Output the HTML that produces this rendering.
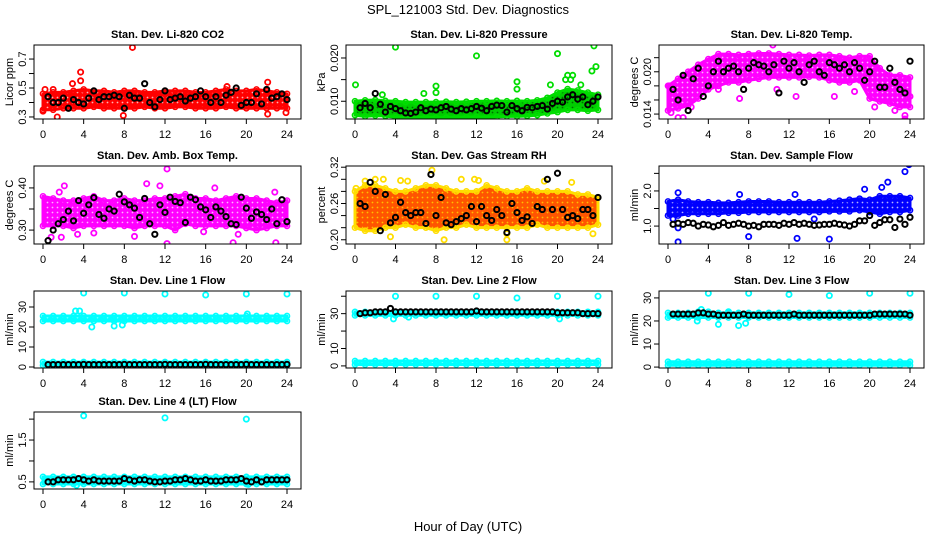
<!DOCTYPE html>
<html><head><meta charset="utf-8">
<style>
html,body{margin:0;padding:0;background:#fff;}
svg{display:block;font-family:"Liberation Sans",sans-serif;}
</style></head>
<body>
<svg id="chart" width="936" height="540" viewBox="0 0 936 540">
<rect width="936" height="540" fill="#fff"/>
<text x="468" y="14" text-anchor="middle" font-size="13">SPL_121003  Std. Dev. Diagnostics</text>
<text x="468" y="531" text-anchor="middle" font-size="13">Hour of Day (UTC)</text>
</svg>
<script>
// ---- shared data ----
const bandHours = [0,1,2,3,4,5,6,7,8,9,10,11,12,13,14,15,16,17,18,19,20,21,22,23,24];
const blackHours = [0.5,1,1.5,2,2.5,3,3.5,4,4.5,5,5.5,6,6.5,7,7.5,8,8.5,9,9.5,10,10.5,11,11.5,12,12.5,13,13.5,14,14.5,15,15.5,16,16.5,17,17.5,18,18.5,19,19.5,20,20.5,21,21.5,22,22.5,23,23.5,24];
const xTicks = [0,4,8,12,16,20,24];

// CO2
const co2Lo = [0.35,0.35,0.36,0.36,0.36,0.37,0.36,0.36,0.36,0.36,0.37,0.36,0.36,0.37,0.37,0.36,0.36,0.36,0.37,0.36,0.36,0.36,0.36,0.36,0.36];
const co2Hi = [0.46,0.47,0.47,0.48,0.49,0.48,0.48,0.47,0.48,0.48,0.47,0.47,0.48,0.48,0.48,0.47,0.47,0.48,0.49,0.48,0.48,0.49,0.48,0.47,0.46];
const co2OutT = [8.8,3.7,3.7,2.9,22.1,1.4,7.9,22.1,0.2,1,18.1,0,23.9];
const co2OutV = [0.78,0.61,0.55,0.53,0.54,0.30,0.31,0.32,0.49,0.49,0.51,0.34,0.33];
const co2Black = [0.44,0.40,0.40,0.43,0.36,0.42,0.40,0.39,0.43,0.48,0.42,0.44,0.44,0.45,0.44,0.36,0.45,0.43,0.43,0.53,0.40,0.37,0.42,0.48,0.42,0.43,0.44,0.41,0.43,0.44,0.48,0.44,0.40,0.44,0.40,0.45,0.47,0.50,0.38,0.40,0.40,0.46,0.39,0.49,0.43,0.44,0.46,0.42];
// Pressure
const presLo = [0.0068,0.0065,0.0067,0.0066,0.0063,0.0062,0.0062,0.0063,0.0062,0.0062,0.0063,0.0063,0.0064,0.0063,0.0064,0.0065,0.0065,0.0066,0.0068,0.0072,0.0075,0.0080,0.0080,0.0078,0.0080];
const presHi = [0.0100,0.0102,0.0103,0.0101,0.0100,0.0098,0.0098,0.0098,0.0098,0.0099,0.0098,0.0099,0.0100,0.0100,0.0101,0.0100,0.0101,0.0100,0.0102,0.0108,0.0120,0.0128,0.0125,0.0120,0.0115];
const presOutT = [0.05,4,12,20,23.6,23.4,23.8,16,16,8,8,6.8,2.7,21,21.5,19.3,4.5,9.5,22.3,20.8,21.3];
const presOutV = [0.0138,0.0225,0.0205,0.0210,0.0228,0.0170,0.0180,0.0145,0.0128,0.0135,0.0120,0.0118,0.0115,0.0160,0.0160,0.0138,0.0057,0.0057,0.0138,0.0150,0.0150];
const presBlack = [0.0085,0.0095,0.0085,0.0118,0.0093,0.0075,0.0088,0.0083,0.0078,0.0073,0.0072,0.0075,0.0085,0.0078,0.0082,0.0080,0.0085,0.0088,0.0082,0.0078,0.0083,0.0080,0.0083,0.0088,0.0084,0.0078,0.0088,0.0091,0.0090,0.0075,0.0090,0.0083,0.0078,0.0086,0.0085,0.0088,0.0090,0.0082,0.0095,0.0100,0.0098,0.0110,0.0115,0.0105,0.0110,0.0092,0.0100,0.0110];
// Li-820 temp
const tmpLo = [0.0145,0.0148,0.0152,0.0162,0.0175,0.0180,0.0185,0.0185,0.0188,0.0190,0.0192,0.0192,0.0192,0.0192,0.0193,0.0192,0.0188,0.0185,0.0185,0.0188,0.0162,0.0158,0.0155,0.0150,0.0150];
const tmpHi = [0.0180,0.0190,0.0200,0.0210,0.0218,0.0225,0.0225,0.0224,0.0225,0.0226,0.0226,0.0225,0.0224,0.0224,0.0223,0.0224,0.0224,0.0222,0.0220,0.0222,0.0222,0.0205,0.0195,0.0195,0.0192];
const tmpOutT = [0.3,1,1.5,10.4,10.8,7.1,12.7,16.5,22.5,23.5,23.5,24,5,18.5,20.5,0.1,2.3];
const tmpOutV = [0.0142,0.0135,0.0135,0.0238,0.0175,0.0162,0.0165,0.0165,0.0145,0.0138,0.0133,0.0165,0.0175,0.0172,0.0150,0.0180,0.0150];
const tmpBlack = [0.0175,0.0160,0.0195,0.0145,0.0190,0.0205,0.0165,0.0180,0.0200,0.0215,0.0200,0.0205,0.0208,0.0200,0.0175,0.0205,0.0213,0.0210,0.0208,0.0200,0.0210,0.0170,0.0215,0.0205,0.0213,0.0200,0.0185,0.0210,0.0215,0.0200,0.0195,0.0213,0.0210,0.0205,0.0210,0.0200,0.0213,0.0205,0.0188,0.0200,0.0215,0.0178,0.0178,0.0205,0.0185,0.0175,0.0170,0.0215];
// Amb box temp
const ambLo = [0.31,0.31,0.31,0.305,0.31,0.31,0.31,0.31,0.31,0.305,0.31,0.31,0.31,0.30,0.315,0.31,0.31,0.31,0.31,0.31,0.305,0.30,0.305,0.31,0.31];
const ambHi = [0.38,0.375,0.37,0.37,0.375,0.38,0.37,0.37,0.375,0.37,0.37,0.375,0.375,0.38,0.385,0.375,0.375,0.37,0.375,0.38,0.375,0.375,0.37,0.365,0.37];
const ambOutT = [12.2,12.2,18.7,22.9,2.1,10.2,11.5,16.9,22.8,1.8,5,9,15.8,19.2,0.8,1.6,3.4];
const ambOutV = [0.445,0.268,0.270,0.270,0.405,0.410,0.405,0.400,0.390,0.283,0.293,0.285,0.296,0.290,0.283,0.390,0.290];
const ambBlack = [0.275,0.300,0.315,0.325,0.345,0.322,0.370,0.340,0.360,0.377,0.337,0.328,0.350,0.345,0.385,0.367,0.360,0.352,0.330,0.375,0.315,0.290,0.360,0.342,0.378,0.368,0.365,0.318,0.378,0.372,0.355,0.348,0.330,0.355,0.345,0.332,0.315,0.313,0.378,0.352,0.328,0.343,0.337,0.325,0.350,0.315,0.372,0.320];
// Gas stream RH
const rhLo = [0.22,0.215,0.215,0.22,0.22,0.225,0.22,0.22,0.215,0.22,0.22,0.225,0.22,0.22,0.22,0.22,0.22,0.22,0.225,0.22,0.22,0.22,0.22,0.22,0.225];
const rhHi = [0.28,0.29,0.29,0.285,0.28,0.28,0.285,0.29,0.29,0.285,0.28,0.28,0.28,0.29,0.285,0.28,0.28,0.285,0.28,0.28,0.28,0.28,0.275,0.275,0.27];
const rhOutT = [7.6,8.8,15,1,2,2.8,4.5,11.8,12.2,3.5,15,23.5,18.7,21.4,5.2,10.5,0.1];
const rhOutV = [0.315,0.200,0.200,0.297,0.300,0.300,0.298,0.300,0.298,0.205,0.210,0.210,0.297,0.295,0.297,0.300,0.285];
const rhBlack = [0.260,0.255,0.295,0.280,0.215,0.275,0.228,0.237,0.262,0.245,0.240,0.245,0.245,0.227,0.308,0.240,0.270,0.228,0.225,0.230,0.235,0.240,0.255,0.230,0.255,0.240,0.232,0.250,0.240,0.212,0.260,0.245,0.232,0.238,0.227,0.255,0.250,0.300,0.250,0.310,0.250,0.237,0.240,0.235,0.250,0.250,0.240,0.270];
// Sample flow
const sfLo = [1.3,1.3,1.35,1.35,1.35,1.35,1.38,1.38,1.4,1.4,1.4,1.4,1.4,1.4,1.4,1.4,1.42,1.42,1.42,1.45,1.4,1.35,1.4,1.4,1.45];
const sfHi = [1.7,1.75,1.7,1.68,1.68,1.66,1.66,1.68,1.7,1.7,1.7,1.68,1.68,1.68,1.68,1.68,1.7,1.72,1.75,1.78,1.75,1.85,1.85,1.85,1.8];
const sfOutT = [1,8,12.8,16,1,7.1,12.6,19.5,21.2,21.8,23.5,23.7,23.9,0.5,1,14.5];
const sfOutV = [0.55,0.70,0.65,0.63,1.95,1.90,1.90,2.05,2.10,2.25,2.55,2.80,2.75,1.20,0.95,1.20];
const sfBlack = [1.05,1.08,1.05,1.10,1.08,1.00,1.05,1.03,0.98,1.02,1.10,1.02,1.05,1.08,1.05,1.00,1.02,0.98,1.05,1.05,1.05,1.02,1.08,1.05,1.10,1.05,1.08,1.05,1.02,1.03,1.05,1.05,1.08,1.05,1.03,1.00,1.05,1.15,1.15,1.30,1.02,1.10,1.18,1.18,0.96,1.20,1.05,1.25];
// Line 1
const l1Lo = [23,23,23,23,23,23,23,23,23,23,23,23,23,23,23,23,23,23,23,23,23,23,23,23,23];
const l1Hi = [25.5,25.5,25.5,25.5,25.5,25.5,25.5,25.5,25.5,25.5,25.5,25.5,25.5,25.5,25.5,25.5,25.5,25.5,25.5,25.5,25.5,25.5,25.5,25.5,25.5];
const l1Lo2 = [0.8,0.8,0.8,0.8,0.8,0.8,0.8,0.8,0.8,0.8,0.8,0.8,0.8,0.8,0.8,0.8,0.8,0.8,0.8,0.8,0.8,0.8,0.8,0.8,0.8];
const l1Hi2 = [2.5,2.5,2.5,2.5,2.5,2.5,2.5,2.5,2.5,2.5,2.5,2.5,2.5,2.5,2.5,2.5,2.5,2.5,2.5,2.5,2.5,2.5,2.5,2.5,2.5];
const l1OutT = [4,8,12,16,20,24,3.2,3.6,4.8,7,7.8,20.1];
const l1OutV = [37,37,36.5,36,36.5,36.5,28,28,20,20.5,21,26.5];
const l1Black = [1.2,1.2,1.2,1.2,1.2,1.2,1.2,1.3,1.2,1.2,1.2,1.2,1.2,1.2,1.2,1.3,1.2,1.2,1.2,1.2,1.2,1.2,1.2,1.3,1.2,1.2,1.2,1.2,1.2,1.2,1.2,1.3,1.2,1.2,1.2,1.2,1.2,1.2,1.2,1.3,1.2,1.2,1.2,1.2,1.2,1.2,1.2,1.3];
// Line 2
const l2Lo = [29,29,29,29,29,29,29,29,29,29,29,29,29,29,29,29,29,29,29,29,29,29,29,29,29];
const l2Hi = [31,31,31,31,31,31,31,31,31,31,31,31,31,31,31,31,31,31,31,31,31,31,31,31,31];
const l2Lo2 = [0.8,0.8,0.8,0.8,0.8,0.8,0.8,0.8,0.8,0.8,0.8,0.8,0.8,0.8,0.8,0.8,0.8,0.8,0.8,0.8,0.8,0.8,0.8,0.8,0.8];
const l2Hi2 = [2.8,2.8,2.8,2.8,2.8,2.8,2.8,2.8,2.8,2.8,2.8,2.8,2.8,2.8,2.8,2.8,2.8,2.8,2.8,2.8,2.8,2.8,2.8,2.8,2.8];
const l2OutT = [4,8,12,16,20,24,3.8,5.3,20.2];
const l2OutV = [40,40,40,39,40,40,27,28,27];
const l2Black = [30,30.5,30.5,31,31,31,33,31,31,31,31,31,31,31,31,31,31,31,31,31,31,31,31,31.5,31,31,31,31,31,31,31,31,31,31,31,31,31,31,31,30.5,30.5,30.5,30.5,30.5,30,30,30,30];
// Line 3
const l3Lo = [21.5,21.5,21.5,21.5,21.5,21.5,21.5,21.5,21.5,21.5,21.5,21.5,21.5,21.5,21.5,21.5,21.5,21.5,21.5,21.5,21.5,21.5,21.5,21.5,21.5];
const l3Hi = [23.5,23.5,23.5,24,24,23.5,23.5,23.5,23.5,23.5,23.5,23.5,23.5,23.5,23.5,23.5,23.5,23.5,23.5,23.5,23.5,23.5,23.5,23.5,23.5];
const l3Lo2 = [0.8,0.8,0.8,0.8,0.8,0.8,0.8,0.8,0.8,0.8,0.8,0.8,0.8,0.8,0.8,0.8,0.8,0.8,0.8,0.8,0.8,0.8,0.8,0.8,0.8];
const l3Hi2 = [2.3,2.3,2.3,2.3,2.3,2.3,2.3,2.3,2.3,2.3,2.3,2.3,2.3,2.3,2.3,2.3,2.3,2.3,2.3,2.3,2.3,2.3,2.3,2.3,2.3];
const l3OutT = [4,8,12,16,20,24,2.9,3.3,5,7,7.7,6];
const l3OutV = [32,32,31.5,31,32,32,20,25,18.5,18,19,24];
const l3Black = [23,23,23,23,23,23.5,23.5,23,23,22.5,22.5,22.5,22.5,22.5,23,22.5,22.5,22.5,22.5,22.5,22.5,22.5,22.5,22.5,23,22.5,22.5,22.5,22.5,22.5,22.5,22.5,22.5,22.5,22.5,22.5,22.5,22.5,22.5,22.5,23,23,23,23,23,23,23,22.5];
// Line 4
const l4Lo = [0.45,0.45,0.45,0.45,0.45,0.45,0.45,0.45,0.45,0.45,0.45,0.45,0.45,0.45,0.45,0.45,0.45,0.45,0.45,0.45,0.45,0.45,0.45,0.45,0.45];
const l4Hi = [0.62,0.62,0.62,0.62,0.62,0.62,0.62,0.62,0.62,0.62,0.62,0.62,0.62,0.62,0.62,0.62,0.62,0.62,0.62,0.62,0.62,0.62,0.62,0.62,0.62];
const l4OutT = [4,12,20,3.3,20.2];
const l4OutV = [2.08,2.03,2.00,0.42,0.44];
const l4Black = [0.50,0.50,0.55,0.55,0.55,0.55,0.58,0.55,0.52,0.55,0.52,0.52,0.52,0.52,0.52,0.58,0.55,0.52,0.55,0.55,0.52,0.50,0.50,0.52,0.52,0.55,0.55,0.58,0.55,0.52,0.52,0.55,0.52,0.52,0.52,0.55,0.55,0.55,0.58,0.52,0.50,0.55,0.50,0.55,0.55,0.55,0.55,0.55];

// ---- layout / panel definitions ----
const cols = [[34,301],[346,612],[659,924]];
const rows = [[45,119],[166,244],[291,368],[412,489]];
const panels = [
 {name:'co2',title:'Stan. Dev. Li-820 CO2',ylab:'Licor ppm',c:0,r:0,ymin:0.286,ymax:0.797,ticks:[0.3,0.4,0.5,0.6,0.7],labels:['0.3','','0.5','','0.7'],color:'#ff0000',stroke:'#ff0000',dot:'#ffffff',bands:[[co2Lo,co2Hi]],outT:co2OutT,outV:co2OutV,black:co2Black},
 {name:'pressure',title:'Stan. Dev. Li-820 Pressure',ylab:'kPa',c:1,r:0,ymin:0.0059,ymax:0.023,ticks:[0.010,0.015,0.020],labels:['0.010','','0.020'],color:'#00cc00',stroke:'#00dd00',dot:'#004400',bands:[[presLo,presHi]],outT:presOutT,outV:presOutV,black:presBlack},
 {name:'li820-temp',title:'Stan. Dev. Li-820 Temp.',ylab:'degrees C',c:2,r:0,ymin:0.0133,ymax:0.0238,ticks:[0.014,0.016,0.018,0.020,0.022],labels:['0.014','','','0.020',''],color:'#ff00ff',stroke:'#ff00ff',dot:'#ffffff',bands:[[tmpLo,tmpHi]],outT:tmpOutT,outV:tmpOutV,black:tmpBlack},
 {name:'amb-box-temp',title:'Stan. Dev. Amb. Box Temp.',ylab:'degrees C',c:0,r:1,ymin:0.267,ymax:0.452,ticks:[0.30,0.35,0.40],labels:['0.30','','0.40'],color:'#ff00ff',stroke:'#ff00ff',dot:'#ffffff',bands:[[ambLo,ambHi]],outT:ambOutT,outV:ambOutV,black:ambBlack},
 {name:'gas-stream-rh',title:'Stan. Dev. Gas Stream RH',ylab:'percent',c:1,r:1,ymin:0.193,ymax:0.322,ticks:[0.20,0.22,0.24,0.26,0.28,0.30,0.32],labels:['0.20','','','0.26','','','0.32'],color:'#ff5500',stroke:'#ffdd00',dot:'#ffee00',bands:[[rhLo,rhHi]],outT:rhOutT,outV:rhOutV,black:rhBlack},
 {name:'sample-flow',title:'Stan. Dev. Sample Flow',ylab:'ml/min',c:2,r:1,ymin:0.49,ymax:2.71,ticks:[1.0,1.5,2.0,2.5],labels:['1.0','','2.0',''],color:'#0000ff',stroke:'#0000ff',dot:'#ffffff',bands:[[sfLo,sfHi]],outT:sfOutT,outV:sfOutV,black:sfBlack},
 {name:'line1-flow',title:'Stan. Dev. Line 1 Flow',ylab:'ml/min',c:0,r:2,ymin:-0.5,ymax:38,ticks:[0,10,20,30],labels:['0','10','20','30'],color:'#00ffff',stroke:'#00ffff',dot:'#ffffff',bands:[[l1Lo,l1Hi],[l1Lo2,l1Hi2]],outT:l1OutT,outV:l1OutV,black:l1Black},
 {name:'line2-flow',title:'Stan. Dev. Line 2 Flow',ylab:'ml/min',c:1,r:2,ymin:-1.2,ymax:43,ticks:[0,10,20,30,40],labels:['0','10','','30',''],color:'#00ffff',stroke:'#00ffff',dot:'#ffffff',bands:[[l2Lo,l2Hi],[l2Lo2,l2Hi2]],outT:l2OutT,outV:l2OutV,black:l2Black},
 {name:'line3-flow',title:'Stan. Dev. Line 3 Flow',ylab:'ml/min',c:2,r:2,ymin:-0.4,ymax:33,ticks:[0,10,20,30],labels:['0','10','20','30'],color:'#00ffff',stroke:'#00ffff',dot:'#ffffff',bands:[[l3Lo,l3Hi],[l3Lo2,l3Hi2]],outT:l3OutT,outV:l3OutV,black:l3Black},
 {name:'line4-flow',title:'Stan. Dev. Line 4 (LT) Flow',ylab:'ml/min',c:0,r:3,ymin:0.33,ymax:2.17,ticks:[0.5,1.0,1.5,2.0],labels:['0.5','','1.5',''],color:'#00ffff',stroke:'#00ffff',dot:'#ffffff',bands:[[l4Lo,l4Hi]],outT:l4OutT,outV:l4OutV,black:l4Black}
];

const NS='http://www.w3.org/2000/svg';
const svg=document.getElementById('chart');
function mk(tag,attrs,parent,txt){const e=document.createElementNS(NS,tag);for(const k in attrs)e.setAttribute(k,attrs[k]);if(txt!==undefined)e.textContent=txt;parent.appendChild(e);return e;}
const defs=mk('defs',{},svg);

panels.forEach(p=>{
  const [L,R]=cols[p.c],[T,B]=rows[p.r];
  const x0=L+9,x1=R-14;
  const xs=h=>x0+(h/24)*(x1-x0);
  const ys=v=>B-(v-p.ymin)/(p.ymax-p.ymin)*(B-T);
  // texture pattern
  const pat=mk('pattern',{id:'pat-'+p.name,width:5,height:5,patternUnits:'userSpaceOnUse'},defs);
  mk('rect',{width:5,height:5,fill:p.color},pat);
  mk('circle',{cx:2.5,cy:2.5,r:0.9,fill:p.dot,'fill-opacity':0.7},pat);
  const g=mk('g',{},svg);
  
  
  const clipId='clip-'+p.name;
  const cp=mk('clipPath',{id:clipId},g);mk('rect',{x:L,y:T,width:R-L,height:B-T},cp);
  const title=mk('text',{x:(L+R)/2,y:T-7,'text-anchor':'middle','font-size':'11','font-weight':'bold'},g,p.title);
  
  
  const yl=mk('text',{x:0,y:0,transform:`translate(${L-21},${(T+B)/2}) rotate(-90)`,'text-anchor':'middle','font-size':'11'},g,p.ylab);
  
  
  const plot=mk('g',{'clip-path':`url(#${clipId})`},g);
  
  
  p.bands.forEach(([lo,hi])=>{
    let pts=bandHours.map((h,i)=>xs(h)+','+ys(hi[i]));
    pts=pts.concat(bandHours.map((h,i)=>[h,i]).reverse().map(([h,i])=>xs(h)+','+ys(lo[i])));
    const band=mk('polygon',{points:pts.join(' '),fill:`url(#pat-${p.name})`,stroke:p.stroke,'stroke-width':3,'stroke-linejoin':'round'},plot);
    
    
    bandHours.forEach((h,i)=>{
      [lo[i],hi[i]].forEach(v=>{
        const c=mk('circle',{cx:xs(h),cy:ys(v),r:2.6,fill:'none',stroke:p.stroke,'stroke-width':1.5},plot);
        
        
      });
    });
  });
  p.outT.forEach((h,i)=>{
    const c=mk('circle',{cx:xs(h),cy:ys(p.outV[i]),r:2.6,fill:'none',stroke:p.stroke,'stroke-width':1.8},plot);
    
    
  });
  blackHours.forEach((h,i)=>{
    const c=mk('circle',{cx:xs(h),cy:ys(p.black[i]),r:2.6,fill:'none',stroke:'#000','stroke-width':2},plot);
    
    
  });
  const box=mk('rect',{x:L,y:T,width:R-L,height:B-T,fill:'none',stroke:'#000','stroke-width':1},g);
  
  
  mk('line',{x1:xs(0),x2:xs(24),y1:B,y2:B,stroke:'#000'},g);
  xTicks.forEach(t=>{
    mk('line',{x1:xs(t),x2:xs(t),y1:B,y2:B+5,stroke:'#000'},g);
    const tl=mk('text',{x:xs(t),y:B+19,'text-anchor':'middle','font-size':'11'},g,String(t));
    
    
  });
  p.ticks.forEach((t,i)=>{
    mk('line',{x1:L-5,x2:L,y1:ys(t),y2:ys(t),stroke:'#000'},g);
    if(p.labels[i]){
      const tl=mk('text',{x:0,y:0,transform:`translate(${L-8},${ys(t)}) rotate(-90)`,'text-anchor':'middle','font-size':'11'},g,p.labels[i]);
      
      
    }
  });
});
</script>
</body></html>
